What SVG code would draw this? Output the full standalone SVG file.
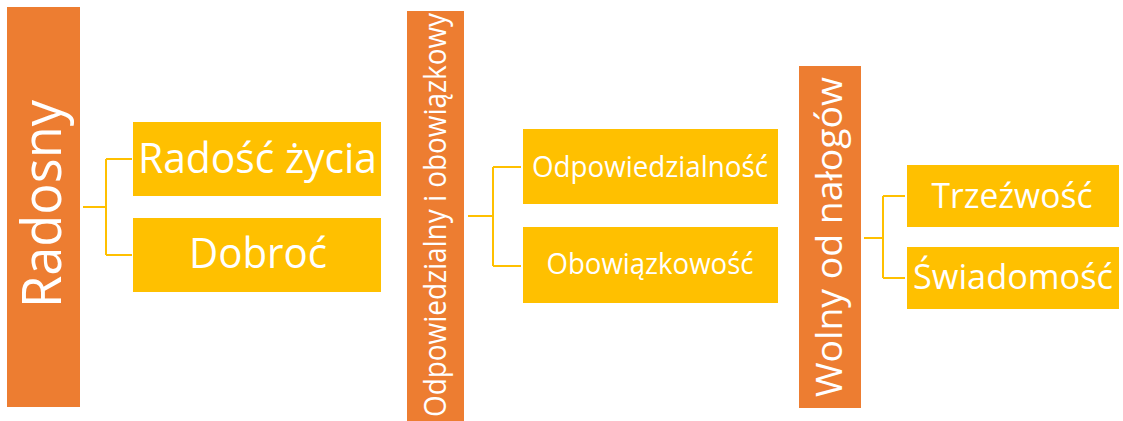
<svg xmlns="http://www.w3.org/2000/svg" width="1123" height="421" viewBox="0 0 1123 421">
<style>
.bar{fill:#ED7D31}
.box{fill:#FFC000}
.t{fill:#fff;font-family:"Open Sans","Noto Sans",sans-serif;text-anchor:middle}
.c{stroke:#FFC000;stroke-width:2;fill:none}
</style>
<rect width="1123" height="421" fill="#fff"/>
<g id="connectors">
<path class="c" d="M83,207 H106 M106,159 V255 M106,159 H132 M106,255 H132"/>
<path class="c" d="M468,216 H493 M493,167 V266 M493,167 H521 M493,266 H521"/>
<path class="c" d="M864,238 H883 M883,196 V278 M883,196 H905 M883,278 H905"/>
</g>
<g id="radosny">
<rect class="bar" x="7" y="7" width="73" height="400"/>
<text class="t" font-size="55" transform="translate(61,204) rotate(-90)" textLength="208" lengthAdjust="spacingAndGlyphs">Radosny</text>
</g>
<g id="radosc">
<rect class="box" x="133" y="122" width="248" height="74"/>
<text class="t" font-size="42" x="257.5" y="173" textLength="239" lengthAdjust="spacingAndGlyphs">Radość życia</text>
</g>
<g id="dobroc">
<rect class="box" x="133" y="218" width="248" height="74"/>
<text class="t" font-size="42" x="258" y="268" textLength="138" lengthAdjust="spacingAndGlyphs">Dobroć</text>
</g>
<g id="odpowiedzialny">
<rect class="bar" x="407" y="11" width="57" height="410"/>
<text class="t" font-size="31" transform="translate(446,215) rotate(-90)" textLength="404" lengthAdjust="spacingAndGlyphs">Odpowiedzialny i obowiązkowy</text>
</g>
<g id="odpowiedzialnosc">
<rect class="box" x="523" y="129" width="255" height="75"/>
<text class="t" font-size="30" x="650" y="177" textLength="236" lengthAdjust="spacingAndGlyphs">Odpowiedzialność</text>
</g>
<g id="obowiazkowosc">
<rect class="box" x="523" y="227" width="255" height="76"/>
<text class="t" font-size="30" x="650" y="274" textLength="207" lengthAdjust="spacingAndGlyphs">Obowiązkowość</text>
</g>
<g id="wolny">
<rect class="bar" x="799" y="66" width="62" height="342"/>
<text class="t" font-size="37" transform="translate(842,237) rotate(-90)" textLength="320" lengthAdjust="spacingAndGlyphs">Wolny od nałogów</text>
</g>
<g id="trzezwosc">
<rect class="box" x="907" y="165" width="212" height="62"/>
<text class="t" font-size="35" x="1012" y="208" textLength="161" lengthAdjust="spacingAndGlyphs">Trzeźwość</text>
</g>
<g id="swiadomosc">
<rect class="box" x="907" y="247" width="212" height="62"/>
<text class="t" font-size="35" x="1013" y="289" textLength="200" lengthAdjust="spacingAndGlyphs">Świadomość</text>
</g>
</svg>
